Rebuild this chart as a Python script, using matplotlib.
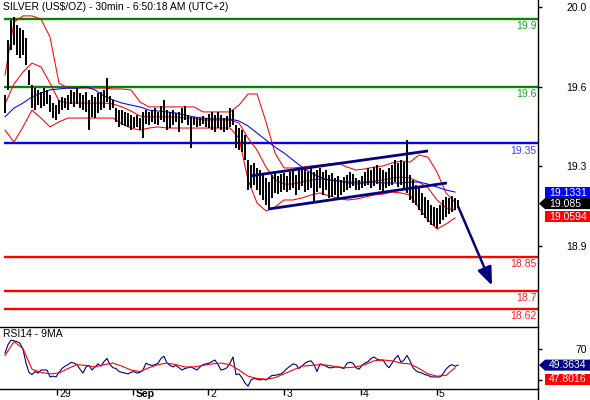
import numpy as np
import matplotlib
matplotlib.use('Agg')
import matplotlib.pyplot as plt
from matplotlib.lines import Line2D
from matplotlib.patches import Polygon

plt.rcParams['font.family'] = ['Liberation Sans', 'DejaVu Sans']

TITLE = 'SILVER (US$/OZ) - 30min - 6:50:18 AM (UTC+2)'

# 30 min bars (high / low)
highs = [19.564, 19.806, 19.894, 19.907, 19.872, 19.859, 19.850, 19.815, 19.674, 19.608,
         19.594, 19.586, 19.577, 19.594, 19.586, 19.564, 19.528, 19.519, 19.542, 19.555,
         19.550, 19.564, 19.586, 19.577, 19.594, 19.572, 19.564, 19.577, 19.542, 19.564,
         19.555, 19.572, 19.577, 19.586, 19.638, 19.559, 19.542, 19.506, 19.497, 19.497,
         19.489, 19.484, 19.475, 19.467, 19.475, 19.462, 19.489, 19.497, 19.489, 19.497,
         19.506, 19.489, 19.515, 19.542, 19.497, 19.489, 19.497, 19.484, 19.489, 19.506,
         19.515, 19.475, 19.467, 19.467, 19.462, 19.462, 19.471, 19.462, 19.480, 19.489,
         19.475, 19.489, 19.475, 19.462, 19.471, 19.506, 19.497, 19.431, 19.418, 19.409,
         19.387, 19.277, 19.255, 19.264, 19.242, 19.233, 19.211, 19.198, 19.180, 19.211,
         19.224, 19.207, 19.215, 19.220, 19.207, 19.224, 19.233, 19.211, 19.242, 19.233,
         19.242, 19.224, 19.246, 19.224, 19.233, 19.242, 19.224, 19.233, 19.211, 19.220,
         19.198, 19.207, 19.189, 19.202, 19.211, 19.224, 19.215, 19.198, 19.189, 19.207,
         19.224, 19.242, 19.233, 19.246, 19.255, 19.242, 19.233, 19.224, 19.242, 19.255,
         19.277, 19.264, 19.277, 19.268, 19.365, 19.211, 19.189, 19.167, 19.154, 19.132,
         19.114, 19.101, 19.079, 19.070, 19.066, 19.079, 19.101, 19.114, 19.110, 19.119,
         19.110, 19.101]
lows = [19.484, 19.586, 19.762, 19.784, 19.740, 19.727, 19.740, 19.696, 19.608, 19.506,
        19.497, 19.519, 19.506, 19.515, 19.524, 19.489, 19.462, 19.453, 19.480, 19.497,
        19.506, 19.497, 19.524, 19.511, 19.524, 19.506, 19.497, 19.489, 19.409, 19.467,
        19.462, 19.484, 19.497, 19.506, 19.533, 19.497, 19.506, 19.445, 19.423, 19.431,
        19.427, 19.423, 19.409, 19.418, 19.423, 19.409, 19.374, 19.436, 19.431, 19.445,
        19.436, 19.431, 19.453, 19.445, 19.409, 19.418, 19.431, 19.445, 19.401, 19.440,
        19.453, 19.431, 19.330, 19.431, 19.423, 19.427, 19.436, 19.423, 19.418, 19.409,
        19.401, 19.418, 19.409, 19.401, 19.409, 19.423, 19.431, 19.330, 19.321, 19.312,
        19.277, 19.145, 19.154, 19.167, 19.145, 19.123, 19.101, 19.079, 19.066, 19.110,
        19.132, 19.127, 19.136, 19.145, 19.136, 19.145, 19.154, 19.123, 19.145, 19.163,
        19.136, 19.145, 19.154, 19.092, 19.136, 19.154, 19.123, 19.145, 19.110, 19.114,
        19.123, 19.101, 19.123, 19.136, 19.145, 19.154, 19.163, 19.145, 19.145, 19.154,
        19.163, 19.167, 19.154, 19.163, 19.171, 19.145, 19.136, 19.154, 19.163, 19.167,
        19.180, 19.158, 19.167, 19.145, 19.132, 19.101, 19.088, 19.079, 19.057, 19.035,
        19.022, 19.004, 18.991, 18.986, 18.978, 18.995, 19.013, 19.026, 19.039, 19.048,
        19.057, 19.066]
last_close = 19.085

# bollinger bands + slow MA, read every 3rd bar
ind_step = 3
bb_upper = [19.652, 19.885, 19.912, 19.912, 19.898, 19.819, 19.616, 19.594, 19.594, 19.594,
            19.594, 19.594, 19.590, 19.590, 19.586, 19.533, 19.511, 19.511, 19.511, 19.511,
            19.511, 19.511, 19.489, 19.489, 19.489, 19.489, 19.519, 19.568, 19.568, 19.445,
            19.308, 19.242, 19.242, 19.246, 19.251, 19.255, 19.260, 19.264, 19.246, 19.233,
            19.238, 19.246, 19.251, 19.264, 19.273, 19.268, 19.299, 19.290, 19.224, 19.132,
            19.092]
bb_mid = [19.524, 19.612, 19.665, 19.704, 19.687, 19.616, 19.537, 19.528, 19.528, 19.528,
          19.528, 19.528, 19.524, 19.511, 19.493, 19.471, 19.467, 19.467, 19.467, 19.467,
          19.462, 19.462, 19.453, 19.453, 19.453, 19.453, 19.440, 19.374, 19.321, 19.246,
          19.189, 19.171, 19.171, 19.180, 19.189, 19.193, 19.189, 19.185, 19.176, 19.171,
          19.176, 19.185, 19.189, 19.198, 19.202, 19.198, 19.180, 19.154, 19.101, 19.066,
          19.057]
bb_lower = [19.409, 19.356, 19.423, 19.497, 19.462, 19.423, 19.445, 19.462, 19.462, 19.462,
            19.462, 19.462, 19.462, 19.436, 19.418, 19.409, 19.418, 19.423, 19.418, 19.418,
            19.418, 19.418, 19.418, 19.418, 19.418, 19.418, 19.374, 19.189, 19.088, 19.053,
            19.070, 19.101, 19.101, 19.110, 19.123, 19.132, 19.119, 19.110, 19.101, 19.105,
            19.114, 19.123, 19.127, 19.136, 19.132, 19.123, 19.066, 19.013, 18.973, 18.995,
            19.022]
ma_slow = [19.467, 19.506, 19.528, 19.555, 19.572, 19.586, 19.590, 19.594, 19.594, 19.599,
           19.586, 19.559, 19.542, 19.528, 19.519, 19.511, 19.497, 19.493, 19.489, 19.484,
           19.475, 19.467, 19.462, 19.458, 19.458, 19.458, 19.449, 19.427, 19.396, 19.365,
           19.334, 19.308, 19.277, 19.246, 19.220, 19.202, 19.189, 19.185, 19.180, 19.180,
           19.180, 19.180, 19.176, 19.176, 19.176, 19.180, 19.180, 19.171, 19.158, 19.145,
           19.136]
last_ma, last_mid = 19.1331, 19.0594

# RSI14 per bar, 9MA every 3rd bar
rsi = [65, 76, 82, 81, 80, 78, 70, 52, 40, 37,
       41, 39, 43, 43, 43, 34, 35, 34, 40, 45,
       48, 50, 53, 52, 50, 44, 39, 47, 49, 43,
       47, 51, 48, 54, 58, 50, 46, 45, 41, 40,
       39, 38, 40, 41, 39, 40, 43, 52, 50, 49,
       50, 52, 58, 61, 52, 49, 47, 49, 46, 43,
       45, 46, 47, 45, 43, 47, 50, 51, 52, 54,
       56, 50, 43, 44, 46, 52, 60, 37, 38, 33,
       26, 22, 30, 32, 31, 30, 31, 30, 33, 36,
       36, 37, 38, 41, 45, 48, 51, 50, 45, 48,
       52, 54, 55, 50, 41, 51, 50, 48, 46, 46,
       47, 47, 46, 45, 52, 53, 52, 46, 44, 49,
       52, 54, 58, 60, 57, 56, 56, 50, 46, 52,
       58, 62, 53, 56, 62, 55, 46, 42, 40, 39,
       37, 36, 34, 34, 34, 34, 38, 44, 48, 50,
       48, 49.36]
rsi_ma = [62, 80, 71, 44, 40, 38, 39, 45, 50, 49,
          47, 50, 52, 48, 43, 41, 46, 50, 52, 50,
          47, 47, 49, 51, 52, 50, 43, 35, 32, 31,
          33, 38, 43, 48, 49, 50, 49, 47, 46, 47,
          50, 55, 56, 55, 52, 51, 45, 38, 35, 36,
          46]
last_rsi, last_rsi_ma = 49.3634, 47.8016

# support / resistance levels
levels = [(19.9, '19.9', '#008800', '#1f9f1f'),
          (19.6, '19.6', '#008800', '#1f9f1f'),
          (19.35, '19.35', '#0000ff', '#3344ff'),
          (18.85, '18.85', '#ff0000', '#ff2020'),
          (18.7, '18.7', '#ff0000', '#ff2020'),
          (18.62, '18.62', '#ff0000', '#ff2020')]

price_ticks = [19.95, 19.6, 19.25, 18.9]
price_ticklabels = ['20.0', '19.6', '19.3', '18.9']
rsi_ticks = [70, 30]
rsi_ticklabels = ['70', '']  # 30 sits under the 9MA tag

# day boundaries in bar units
date_pos = [17.33, 42.67, 67.67, 93.0, 118.6, 143.9]
date_labels = ['29', 'Sep', '2', '3', '4', '5']

# drawn trend lines (bar, price)
chan_top = [(81.7, 19.207), (141.0, 19.317)]
chan_bot = [(87.7, 19.061), (147.3, 19.176)]
arrow_from = (150.7, 19.083)
arrow_to = (162.7, 18.713)

NAVY = '#000080'
W, H = 590, 400


def px_rect(x0, y0, x1, y1):
    return [x0 / W, 1 - y1 / H, (x1 - x0) / W, (y1 - y0) / H]


fig = plt.figure(figsize=(W / 100, H / 100), dpi=100, facecolor='white')
ax = fig.add_axes(px_rect(0, 0, 538, 326))
rax = fig.add_axes(px_rect(0, 327, 538, 389))

n = len(highs)
xb = np.arange(n)
xi = np.arange(0, n, ind_step)
xlim = (-5 / 3, 533 / 3)

# main panel
for lvl, lab, lc, tc in levels:
    ax.hlines(lvl, -1 / 3, xlim[1], colors=lc, lw=1.7, zorder=1)
    ax.annotate(lab, xy=(1, lvl), xycoords=('axes fraction', 'data'),
                xytext=(-1.2, -5.2), textcoords='offset points',
                ha='right', va='center', fontsize=7.5, color=tc)

ax.plot(xi, bb_upper, color='red', lw=0.75, zorder=2)
ax.plot(xi, bb_mid, color='red', lw=0.75, zorder=2)
ax.plot(xi, bb_lower, color='red', lw=0.75, zorder=2)
ax.plot(xi, ma_slow, color='#0000ff', lw=0.75, zorder=2)
ax.vlines(xb, lows, highs, color='black', lw=1.4, zorder=3)

for seg in (chan_top, chan_bot):
    ax.plot([p[0] for p in seg], [p[1] for p in seg], color=NAVY, lw=2.0,
            solid_capstyle='butt', zorder=4)
ax.annotate('', xy=arrow_to, xytext=arrow_from,
            arrowprops=dict(arrowstyle='-|>,head_length=0.55,head_width=0.22',
                            color=NAVY, lw=1.8, mutation_scale=20), zorder=5)

ax.set_xlim(xlim)
ax.set_ylim(19.982 - 326 / 227, 19.982)
for s in ['left', 'top', 'bottom']:
    ax.spines[s].set_visible(False)
ax.spines['right'].set_linewidth(1.0)
ax.yaxis.tick_right()
ax.set_yticks(price_ticks)
ax.set_yticklabels(price_ticklabels)
ax.tick_params(axis='y', direction='out', length=3, width=1, labelsize=7.5, pad=32)
ax.tick_params(axis='x', bottom=False, labelbottom=False)
for t in ax.get_yticklabels():
    t.set_ha('right')

# RSI panel
rax.plot(xb, rsi, color=NAVY, lw=0.8)
rax.plot(xi, rsi_ma, color='red', lw=0.8)
rax.set_xlim(xlim)
rax.set_ylim(30 - 9 / 0.7675, 70 + 22.3 / 0.7675)
rax.spines['left'].set_visible(False)
for s in ['top', 'bottom', 'right']:
    rax.spines[s].set_linewidth(1.0)
rax.yaxis.tick_right()
rax.set_yticks(rsi_ticks)
rax.set_yticklabels(rsi_ticklabels)
rax.tick_params(axis='y', direction='out', length=3, width=1, labelsize=7.5, pad=32)
for t in rax.get_yticklabels():
    t.set_ha('right')
rax.set_xticks(date_pos)
rax.tick_params(axis='x', direction='out', length=4.5, width=1, labelbottom=False)
for xp, lab in zip(date_pos, date_labels):
    rax.annotate(lab, xy=(xp, 0), xycoords=('data', 'axes fraction'),
                 xytext=(1.6, -3.8), textcoords='offset points', ha='left', va='center',
                 fontsize=7.5, fontweight='bold' if lab == 'Sep' else 'normal')

fig.add_artist(Line2D([538 / W, 538 / W], [0, 12 / H], color='black', lw=1.0))

fig.text(3 / W, 1 - 7.5 / H, TITLE, ha='left', va='center', fontsize=7.5)
fig.text(3 / W, 1 - 334 / H, 'RSI14 - 9MA', ha='left', va='center', fontsize=7.5)


# value tags on the right
def y_px(a, v):
    return a.transData.transform((0, v))[1]


def tag(yc, text, fc, arrow=False, h=11):
    if arrow:
        pts = [(539, yc), (545, yc + h / 2), (590, yc + h / 2), (590, yc - h / 2), (545, yc - h / 2)]
    else:
        pts = [(545, yc + h / 2), (590, yc + h / 2), (590, yc - h / 2), (545, yc - h / 2)]
    fig.add_artist(Polygon([(x / W, y / H) for x, y in pts], closed=True,
                           facecolor=fc, edgecolor='none', zorder=10))
    fig.text(549 / W, yc / H, text, ha='left', va='center', fontsize=7.5,
             color='white', zorder=11)


fig.canvas.draw()
y_ma = y_px(ax, last_ma)
y_cl = y_px(ax, last_close)
y_md = min(y_px(ax, last_mid), y_cl - 13)
tag(y_ma, f'{last_ma:.4f}', '#0000ff')
tag(y_cl, f'{last_close:.3f}', 'black', arrow=True)
tag(y_md, f'{last_mid:.4f}', '#ff0000')
y_r = y_px(rax, last_rsi)
y_rm = min(y_px(rax, last_rsi_ma), y_r - 14)
tag(y_r, f'{last_rsi:.4f}', NAVY, arrow=True)
tag(y_rm, f'{last_rsi_ma:.4f}', '#ff0000')

fig.savefig('out.png', dpi=100, facecolor='white')
